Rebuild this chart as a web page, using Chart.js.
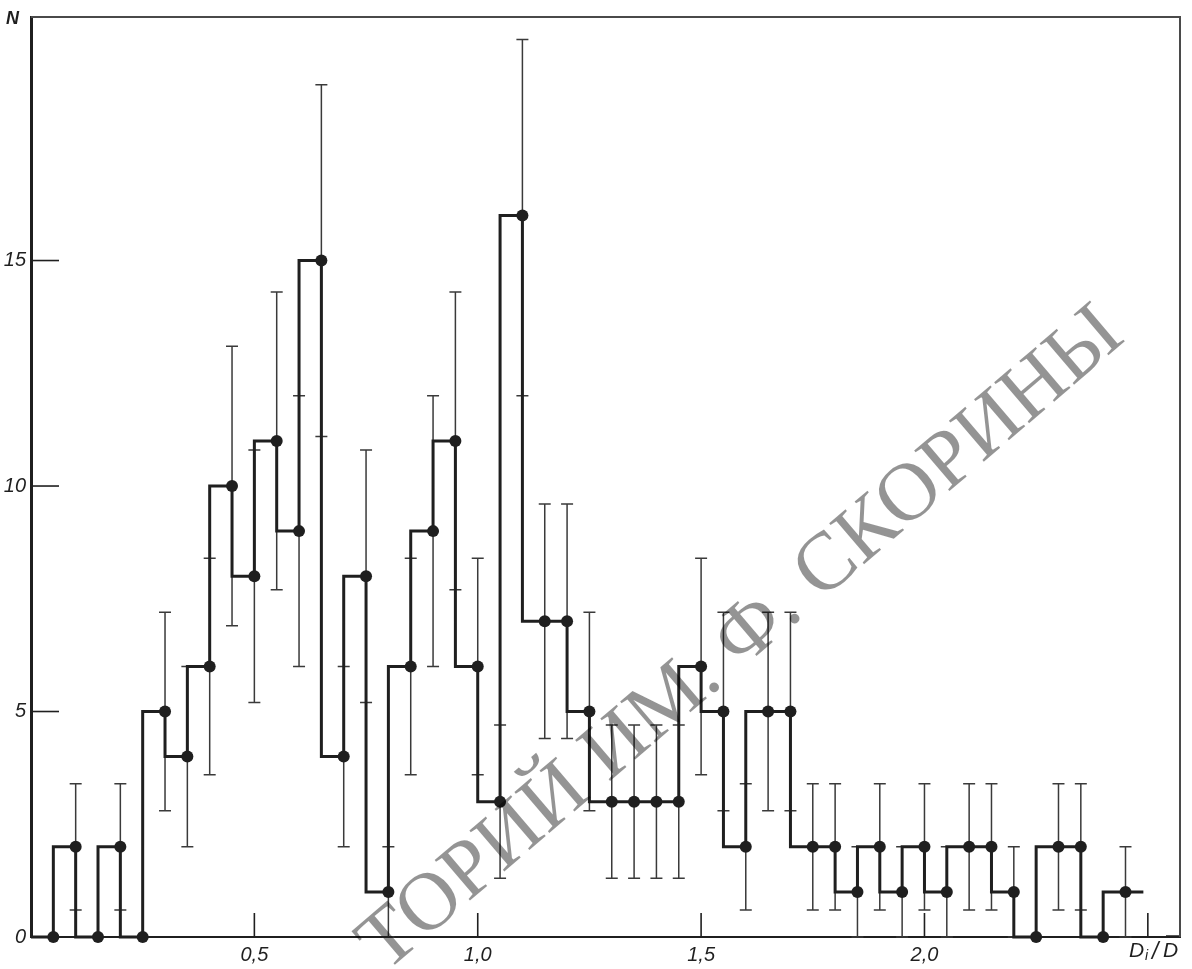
<!DOCTYPE html>
<html>
<head>
<meta charset="utf-8">
<script src="https://cdn.jsdelivr.net/npm/chart.js@4.4.1/dist/chart.umd.min.js"></script>
<style>
  html, body { margin: 0; padding: 0; background: #fff; }
  #wrap { width: 1192px; height: 969px; }
</style>
</head>
<body>
<div id="wrap"><canvas id="histChart" width="1192" height="969"></canvas></div>
<script>
// right edge of every bin, D_i / D
const binX = [0.05, 0.10, 0.15, 0.20, 0.25, 0.30, 0.35, 0.40, 0.45, 0.50,
  0.55, 0.60, 0.65, 0.70, 0.75, 0.80, 0.85, 0.90, 0.95, 1.00,
  1.05, 1.10, 1.15, 1.20, 1.25, 1.30, 1.35, 1.40, 1.45, 1.50,
  1.55, 1.60, 1.65, 1.70, 1.75, 1.80, 1.85, 1.90, 1.95, 2.00,
  2.05, 2.10, 2.15, 2.20, 2.25, 2.30, 2.35, 2.40, 2.45];
// N per bin
const counts = [0, 2, 0, 2, 0, 5, 4, 6, 10, 8,
  11, 9, 15, 4, 8, 1, 6, 9, 11, 6,
  3, 16, 7, 7, 5, 3, 3, 3, 3, 6,
  5, 2, 5, 5, 2, 2, 1, 2, 1, 2,
  1, 2, 2, 1, 0, 2, 2, 0, 1];
// error bar ends (null = no bar)
const errLow = [null, 0.6, null, 0.6, null, 2.8, 2.0, 3.6, 6.9, 5.2,
  7.7, 6.0, 11.1, 2.0, 5.2, 0.0, 3.6, 6.0, 7.7, 3.6,
  1.3, 12.0, 4.4, 4.4, 2.8, 1.3, 1.3, 1.3, 1.3, 3.6,
  2.8, 0.6, 2.8, 2.8, 0.6, 0.6, 0.0, 0.6, 0.0, 0.6,
  0.0, 0.6, 0.6, 0.0, null, 0.6, 0.6, null, 0.0];
const errHigh = [null, 3.4, null, 3.4, null, 7.2, 6.0, 8.4, 13.1, 10.8,
  14.3, 12.0, 18.9, 6.0, 10.8, 2.0, 8.4, 12.0, 14.3, 8.4,
  4.7, 19.9, 9.6, 9.6, 7.2, 4.7, 4.7, 4.7, 4.7, 8.4,
  7.2, 3.4, 7.2, 7.2, 3.4, 3.4, 2.0, 3.4, 2.0, 3.4,
  2.0, 3.4, 3.4, 2.0, null, 3.4, 3.4, null, 2.0];
const histStart = 0;     // histogram starts at the axis
const histEnd = 2.49;    // last bin line runs a little past its point

const xTickValues = [0.5, 1.0, 1.5, 2.0];
const xTickLabels = ["0,5", "1,0", "1,5", "2,0"];
const xMarkValues = [0.5, 1.0, 1.5, 2.0, 2.5];
const yTickValues = [0, 5, 10, 15];
const yTickLabels = ["0", "5", "10", "15"];
const yMarkValues = [5, 10, 15];

const watermark = "ТОРИЙ ИМ. Ф. СКОРИНЫ";

const ink = "#1f1f1f";
const labelFont = { family: "'Liberation Sans', 'DejaVu Sans', sans-serif", size: 20, style: "italic" };

// step line points: axis start, bins, tail
const points = [{ x: histStart, y: counts[0] }];
binX.forEach((x, i) => points.push({ x: x, y: counts[i] }));
points.push({ x: histEnd, y: counts[counts.length - 1] });
const radii = points.map((p, i) => (i === 0 || i === points.length - 1) ? 0 : 6);

// thin error bars, inner tick marks, frame, labels, watermark
const extras = {
  id: "extras",
  beforeDatasetsDraw(chart) {
    const ctx = chart.ctx;
    const xs = chart.scales.x, ys = chart.scales.y;
    const area = chart.chartArea;
    ctx.save();
    ctx.strokeStyle = "#3a3a3a";
    ctx.lineWidth = 1.5;
    binX.forEach((x, i) => {
      if (errLow[i] === null) return;
      const px = xs.getPixelForValue(x);
      const top = ys.getPixelForValue(errHigh[i]);
      const bot = ys.getPixelForValue(errLow[i]);
      ctx.beginPath();
      ctx.moveTo(px, top); ctx.lineTo(px, bot);
      ctx.moveTo(px - 6, top); ctx.lineTo(px + 6, top);
      ctx.moveTo(px - 6, bot); ctx.lineTo(px + 6, bot);
      ctx.stroke();
    });

    // tick marks drawn inside the axes
    ctx.strokeStyle = ink;
    ctx.lineWidth = 1.6;
    xMarkValues.forEach(v => {
      const px = xs.getPixelForValue(v);
      ctx.beginPath();
      ctx.moveTo(px, area.bottom); ctx.lineTo(px, area.bottom - 24);
      ctx.stroke();
    });
    yMarkValues.forEach(v => {
      const py = ys.getPixelForValue(v);
      ctx.beginPath();
      ctx.moveTo(area.left, py); ctx.lineTo(area.left + 28, py);
      ctx.stroke();
    });

    // top and right frame
    ctx.strokeStyle = "#4a4a4a";
    ctx.lineWidth = 2;
    ctx.beginPath();
    ctx.moveTo(area.left, area.top);
    ctx.lineTo(area.right, area.top);
    ctx.lineTo(area.right, area.bottom);
    ctx.stroke();
    ctx.restore();
  },
  afterDraw(chart) {
    const ctx = chart.ctx;
    ctx.save();
    ctx.fillStyle = ink;
    // axis names
    ctx.font = "italic bold 18px 'Liberation Sans', sans-serif";
    ctx.textBaseline = "alphabetic";
    ctx.fillText("N", 6, 24);

    ctx.font = "italic 21px 'Liberation Sans', sans-serif";
    ctx.fillText("D", 1129, 957);
    ctx.font = "italic 14px 'Liberation Sans', sans-serif";
    ctx.fillText("i", 1145, 960);
    ctx.font = "italic 23px 'Liberation Sans', sans-serif";
    ctx.fillText("/", 1152, 959);
    ctx.font = "italic 21px 'Liberation Sans', sans-serif";
    ctx.fillText("D", 1163, 957);
    ctx.strokeStyle = ink;
    ctx.lineWidth = 1.5;
    ctx.beginPath();
    ctx.moveTo(1166, 936); ctx.lineTo(1179, 936);
    ctx.stroke();

    // repository watermark across the plot
    ctx.translate(742, 640);
    ctx.rotate(-40.5 * Math.PI / 180);
    ctx.font = "100px 'Liberation Serif', 'DejaVu Serif', serif";
    const w = ctx.measureText(watermark).width;
    const size = 100 * 975 / w;
    ctx.font = size.toFixed(1) + "px 'Liberation Serif', 'DejaVu Serif', serif";
    ctx.textAlign = "center";
    ctx.textBaseline = "middle";
    ctx.fillStyle = "rgba(0, 0, 0, 0.42)";
    ctx.fillText(watermark, 0, 0);
    ctx.restore();
  }
};

new Chart(document.getElementById("histChart").getContext("2d"), {
  type: "line",
  data: {
    datasets: [{
      data: points,
      stepped: "after",
      borderColor: ink,
      borderWidth: 3,
      pointRadius: radii,
      pointBackgroundColor: ink,
      pointBorderWidth: 0,
      fill: false,
      clip: false
    }]
  },
  options: {
    responsive: false,
    devicePixelRatio: 1,
    animation: false,
    layout: { padding: { top: 11, right: 12, left: 0, bottom: 0 } },
    plugins: { legend: { display: false }, tooltip: { enabled: false } },
    scales: {
      x: {
        type: "linear",
        min: 0,
        max: 2.572,
        afterFit: s => { s.height = 32; },
        afterBuildTicks: s => { s.ticks = xTickValues.map(v => ({ value: v })); },
        grid: { display: false, drawTicks: false },
        border: { display: true, color: ink, width: 2 },
        ticks: {
          padding: 6,
          color: ink,
          font: labelFont,
          maxRotation: 0,
          autoSkip: false,
          callback: v => xTickLabels[xTickValues.indexOf(v)] || ""
        }
      },
      y: {
        type: "linear",
        min: 0,
        max: 20.4,
        afterFit: s => { s.width = 31; },
        afterBuildTicks: s => { s.ticks = yTickValues.map(v => ({ value: v })); },
        grid: { display: false, drawTicks: false },
        border: { display: true, color: ink, width: 3 },
        ticks: {
          padding: 5,
          color: ink,
          font: labelFont,
          autoSkip: false,
          callback: v => yTickLabels[yTickValues.indexOf(v)] || ""
        }
      }
    }
  },
  plugins: [extras]
});
</script>
</body>
</html>
